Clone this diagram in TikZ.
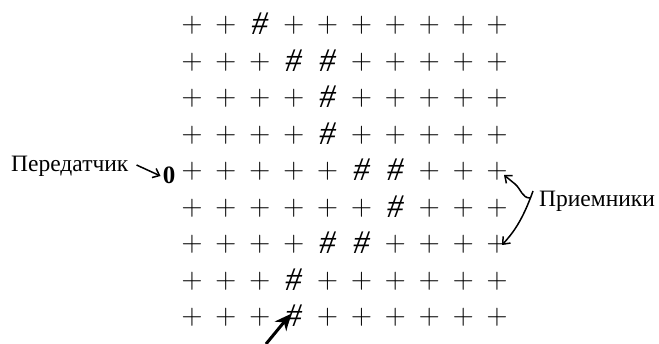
\documentclass[tikz,border=0pt]{standalone}
\usepackage{fontspec}
\setmainfont{Liberation Serif}
\newfontfamily\lmfont{Latin Modern Roman}
\usetikzlibrary{arrows.meta}
\begin{document}
\begin{tikzpicture}[x=1pt,y=-1pt,
  gridsym/.style={inner sep=0pt, font=\lmfont\fontsize{29}{29}\selectfont},
  hashsym/.style={inner sep=0pt, font=\itshape\fontsize{33}{33}\selectfont},
  lbl/.style={inner sep=0pt, font=\fontsize{23.5}{23.5}\selectfont},
  thinarrow/.style={line width=1.5pt, -{Straight Barb[length=6pt,width=10pt,line width=1.5pt]}},
  thickarrow/.style={line width=3pt, -{Stealth[length=16pt,width=15pt]}}]
\useasboundingbox (0,0) rectangle (659,344);
\foreach \r/\c in {
 1/1,1/2,1/4,1/5,1/6,1/7,1/8,1/9,1/10,
 2/1,2/2,2/3,2/6,2/7,2/8,2/9,2/10,
 3/1,3/2,3/3,3/4,3/6,3/7,3/8,3/9,3/10,
 4/1,4/2,4/3,4/4,4/6,4/7,4/8,4/9,4/10,
 5/1,5/2,5/3,5/4,5/5,5/8,5/9,5/10,
 6/1,6/2,6/3,6/4,6/5,6/6,6/8,6/9,6/10,
 7/1,7/2,7/3,7/4,7/7,7/8,7/9,7/10,
 8/1,8/2,8/3,8/5,8/6,8/7,8/8,8/9,8/10,
 9/1,9/2,9/3,9/5,9/6,9/7,9/8,9/9,9/10}{
  \node[gridsym] (c-\r-\c) at ({192+33.9*(\c-1)},{25.5+36.5*(\r-1)}) {+};
}
\foreach \r/\c in {1/3,2/4,2/5,3/5,4/5,5/6,5/7,6/7,7/5,7/6,8/4,9/4}{
  \node[hashsym] (c-\r-\c) at ({192+33.9*(\c-1)},{24+36.5*(\r-1)}) {\#};
}
% labels
\node[lbl, anchor=west] (tx) at (11,166) {Передатчик};
\node[lbl, font=\fontsize{25}{25}\selectfont\bfseries] (zero) at (169,175) {0};
\node[lbl, anchor=west] (rx) at (539,201) {Приемники};
\coordinate (low) at (266,344);
% arrows
\draw[thinarrow] ([xshift=8pt,yshift=1pt]tx.east) -- ([xshift=-2pt,yshift=-1pt]zero.west);
\draw[thinarrow] ([xshift=-9pt,yshift=3pt]rx.west) .. controls (522,198) and (521,189) .. (515,184) -- (504,175);
\draw[thinarrow] ([xshift=-6pt,yshift=10pt]rx.west) .. controls (522,222) and (512,234) .. (502,245);
\draw[thickarrow] (low) -- ([xshift=-3pt,yshift=2pt]c-9-4.center);
\end{tikzpicture}
\end{document}
